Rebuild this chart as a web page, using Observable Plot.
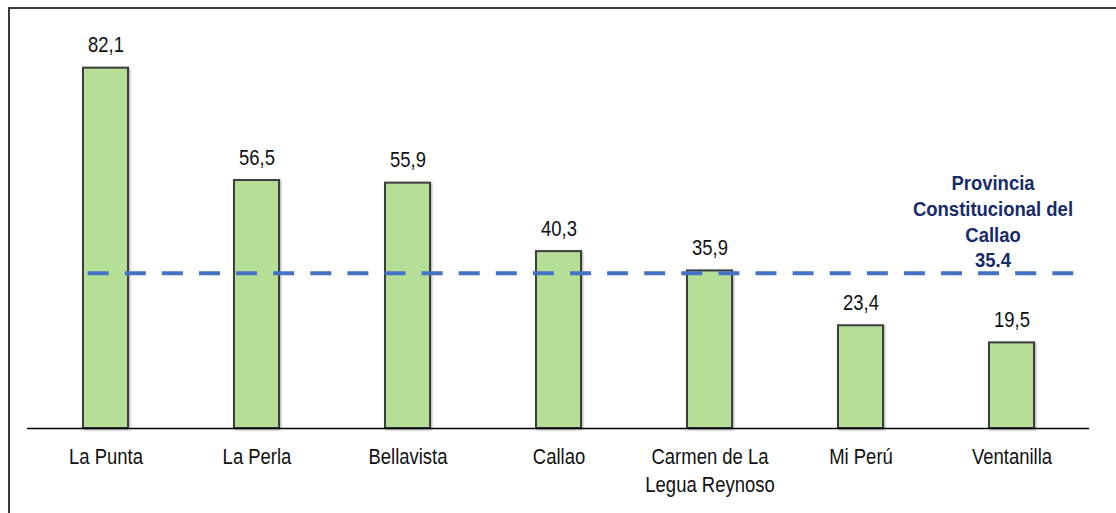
<!DOCTYPE html>
<html>
<head>
<meta charset="utf-8">
<script src="https://cdn.jsdelivr.net/npm/d3@7"></script>
<script src="https://cdn.jsdelivr.net/npm/@observablehq/plot@0.6"></script>
<style>
  html, body { margin: 0; padding: 0; background: #fff; overflow: hidden; }
  #wrap { position: relative; width: 1116px; height: 513px; }
  #frame { position: absolute; left: 8px; top: 7px; width: 1200px; height: 600px;
           border-left: 2px solid #3a3a3a; border-top: 2px solid #3a3a3a; pointer-events: none; }
  #chart { position: absolute; left: 0; top: 0; }
</style>
</head>
<body>
<div id="wrap"><div id="chart"></div><div id="frame"></div></div>
<script>
// Data
const categorias = ["La Punta", "La Perla", "Bellavista", "Callao", "Carmen de La\nLegua Reynoso", "Mi Perú", "Ventanilla"];
const valores = [82.1, 56.5, 55.9, 40.3, 35.9, 23.4, 19.5];
const provinciaTexto = "Provincia\nConstitucional del\nCallao\n35.4";
const provinciaValor = 35.4;

const datos = categorias.map((c, i) => ({cat: c, val: valores[i]}));
const fmt = v => v.toFixed(1).replace(".", ",");
const fontFam = '"Liberation Sans",Arial,sans-serif';

const chart = Plot.plot({
  width: 1116,
  height: 513,
  marginLeft: 27,
  marginRight: 27,
  marginTop: 33,
  marginBottom: 85,
  style: {fontFamily: fontFam, fontSize: "22px", background: "transparent", color: "#111"},
  x: {domain: categorias, paddingInner: 0.703, paddingOuter: 0.3515, axis: null},
  y: {domain: [0, 90], axis: null},
  marks: [
    Plot.barY(datos, {x: "cat", y: "val", fill: "#b5df97", stroke: "#3d3d3d", strokeWidth: 2}),
    Plot.ruleY([0], {stroke: "#000", strokeWidth: 1.5}),
    Plot.ruleY([{y: provinciaValor, x1: categorias[0], x2: categorias[categorias.length - 1]}],
      {y: "y", x1: "x1", x2: "x2", insetLeft: 4.7, insetRight: -54.3,
       stroke: "#4472c4", strokeWidth: 4, strokeDasharray: "21,16.1"}),
    Plot.text(datos, {x: "cat", y: "val", text: d => fmt(d.val), lineAnchor: "bottom", dy: -16, fontSize: 22, fill: "#111"}),
    // category labels (x axis)
    Plot.text(datos, {x: "cat", y: () => 0, text: "cat", lineAnchor: "top", dy: 16, lineHeight: 1.26, fontSize: 22, fill: "#111"}),
    Plot.text([{x: categorias[categorias.length - 1], y: provinciaValor, t: provinciaTexto}],
      {x: "x", y: "y", text: "t", lineAnchor: "bottom", dx: -19, dy: -6, lineHeight: 1.22,
       fontSize: 21, fontWeight: "bold", fill: "#172b6b"})
  ]
});
document.getElementById("chart").appendChild(chart);
d3.select(chart).selectAll('g[aria-label="bar"]').style("filter", "drop-shadow(1.5px 1px 1px rgba(0,0,0,0.35))");
// condense text horizontally to mimic the narrow typeface of the reference
d3.select(chart).selectAll("text").each(function () {
  const el = d3.select(this);
  const bold = el.attr("font-weight") === "bold" || (this.parentNode && this.parentNode.getAttribute("font-weight") === "bold");
  const s = bold ? 0.88 : 0.84;
  const t = el.attr("transform") || "";
  el.attr("transform", (t + ` scale(${s},1)`).trim());
});
</script>
</body>
</html>
